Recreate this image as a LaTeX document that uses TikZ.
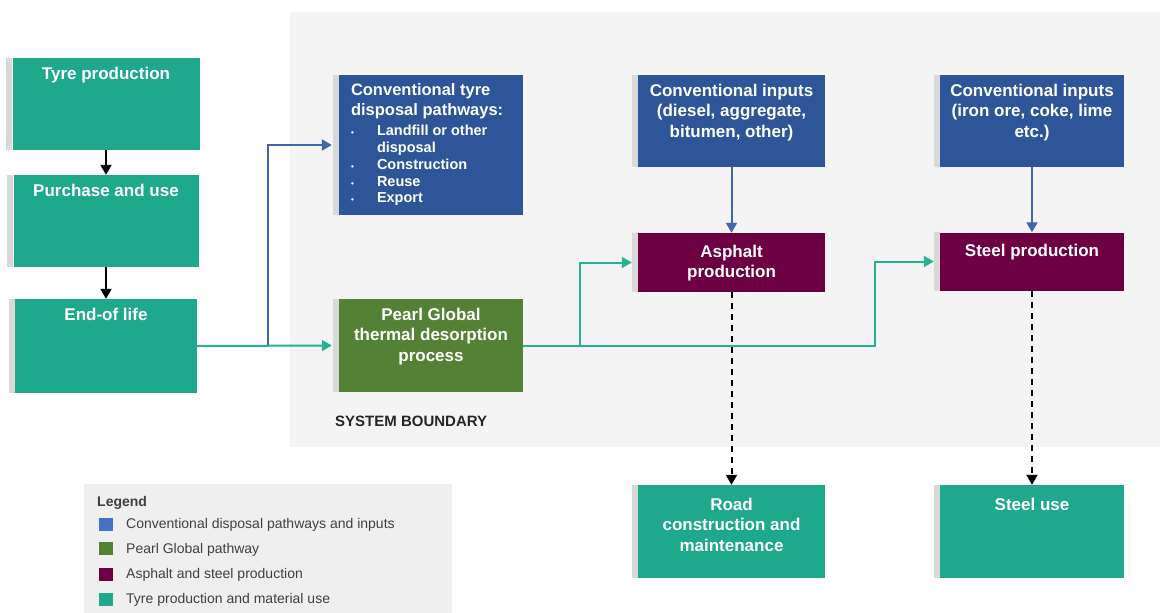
\documentclass[tikz,border=0pt]{standalone}
\usepackage{fontspec}
\setmainfont{Liberation Sans}
\usetikzlibrary{arrows.meta}

\definecolor{boxteal}{HTML}{1FA98C}
\definecolor{boxblue}{HTML}{2E5597}
\definecolor{boxgreen}{HTML}{538135}
\definecolor{boxplum}{HTML}{6C0043}
\definecolor{lineblue}{HTML}{4266AA}
\definecolor{lineteal}{HTML}{26B293}
\definecolor{legblue}{HTML}{4472C4}
\definecolor{bargrey}{HTML}{D9D9D9}
\definecolor{boundgrey}{HTML}{F4F4F4}
\definecolor{leggrey}{HTML}{EFEFEF}
\definecolor{legtext}{HTML}{404040}

\newcommand{\listdot}{\makebox[26pt][l]{\fontsize{8}{8}\selectfont\textbullet}}
\newcommand{\disposallist}{\parbox[t]{176pt}{\fontsize{16.5}{19.5}\selectfont
  Conventional tyre\\disposal pathways:\par\vspace{3.5pt}
  \fontsize{14.5}{16.8}\selectfont
  \listdot Landfill or other\\
  \hspace*{26pt}disposal\\
  \listdot Construction\\
  \listdot Reuse\\
  \listdot Export}}

\tikzset{
  card/.style={rectangle, fill=#1, minimum width=187pt, minimum height=92pt, inner sep=0pt},
  cardtext/.style={anchor=north, yshift=-7pt, inner sep=2pt, text=white, align=center,
    font={\fontsize{17}{20.5}\selectfont\bfseries}},
  listtext/.style={anchor=north west, xshift=12pt, yshift=-9pt, inner sep=0pt, text=white,
    font=\bfseries},
  flow/.style={line width=2pt, ->},
  dashflow/.style={line width=2pt, ->, dash pattern=on 6pt off 5pt},
}

\begin{document}
\begin{tikzpicture}[x=1pt, y=-1pt, >={Triangle[length=10pt,width=11pt]}]
    \useasboundingbox (0,0) rectangle (1162,613);

    % System boundary area
    \fill[boundgrey] (290,12) rectangle (1160,447);
    \node[anchor=base west, inner sep=0pt, font={\fontsize{15}{18}\selectfont\bfseries}, text=black!85]
      (boundary) at (335,426.5) {SYSTEM BOUNDARY};

    % Tyre life cycle
    \node[card=boxteal, label={[cardtext]north:Tyre production}] (tyre) at (106,104) {};
    \node[card=boxteal, minimum width=185pt, label={[cardtext]north:Purchase and use}] (purchase) at (106,221) {};
    \node[card=boxteal, minimum width=182pt, minimum height=94pt, label={[cardtext]north:End-of life}] (eol) at (106,346) {};

    % Disposal and Pearl Global
    \node[card=boxblue, minimum width=184pt, minimum height=140pt,
      label={[listtext]north west:\disposallist}] (disposal) at (431,145) {};
    \node[card=boxgreen, minimum width=184pt, minimum height=93pt,
      label={[cardtext]north:{Pearl Global\\thermal desorption\\process}}] (pearl) at (431,345.5) {};

    % Inputs and production
    \node[card=boxblue, label={[cardtext]north:{Conventional inputs\\(diesel, aggregate,\\bitumen, other)}}] (inputsA) at (731.5,121) {};
    \node[card=boxblue, minimum width=184pt, label={[cardtext]north:{Conventional inputs\\(iron ore, coke, lime\\etc.)}}] (inputsB) at (1032,121) {};
    \node[card=boxplum, minimum height=59pt, label={[cardtext, yshift=-3pt]north:{Asphalt\\production}}] (asphalt) at (731.5,262.5) {};
    \node[card=boxplum, minimum width=184pt, minimum height=58pt, label={[cardtext, yshift=-3pt]north:Steel production}] (steel) at (1032,261.5) {};

    % Material use
    \node[card=boxteal, minimum height=93pt, label={[cardtext, yshift=-4pt]north:{Road\\construction and\\maintenance}}] (road) at (731.5,531.5) {};
    \node[card=boxteal, minimum width=184pt, minimum height=93pt, label={[cardtext, yshift=-4pt]north:Steel use}] (steeluse) at (1032,531.5) {};

    % Grey bars on the left of the boxes
    \foreach \n in {tyre,purchase,eol,disposal,pearl,inputsA,inputsB,asphalt,steel,road,steeluse}
      \fill[bargrey] ([xshift=-6pt]\n.south west) rectangle (\n.north west);

    % Connectors
    \draw[flow] (tyre) -- (purchase);
    \draw[flow] (purchase) -- (eol);

    \coordinate (fork) at (268,346);
    \draw[flow, lineblue, shorten >=7pt] (eol.east) -- (fork) |- (disposal.west);
    \draw[flow, lineteal, shorten >=7pt] (eol.east) -- (pearl.west);

    \coordinate (forkA) at (580,345.5);
    \coordinate (forkB) at (875,345.5);
    \draw[flow, lineteal, shorten >=6pt] (pearl.east) -- (forkA) |- (asphalt.west);
    \draw[flow, lineteal, shorten >=6pt] (pearl.east) -- (forkB) |- (steel.west);

    \draw[flow, lineblue] (inputsA) -- (asphalt);
    \draw[flow, lineblue] (inputsB) -- (steel);

    \draw[dashflow] (asphalt) -- (road);
    \draw[dashflow] (steel) -- (steeluse);

    % Legend
    \fill[leggrey] (84,484) rectangle (452,613);
    \node[anchor=base west, inner sep=0pt, font={\fontsize{14}{16}\selectfont\bfseries}, text=legtext]
      (legend) at (97,506) {Legend};
    \foreach \i/\y/\c/\t in {1/524/legblue/Conventional disposal pathways and inputs,
                             2/548.5/boxgreen/Pearl Global pathway,
                             3/574/boxplum/Asphalt and steel production,
                             4/599/boxteal/Tyre production and material use} {
      \fill[\c] (99,\y-6.5) rectangle (113,\y+6.5);
      \node[anchor=base west, inner sep=0pt, font={\fontsize{14}{16}\selectfont}, text=legtext]
        (leg\i) at (126,\y+4.5) {\t};
    }

\end{tikzpicture}
\end{document}
